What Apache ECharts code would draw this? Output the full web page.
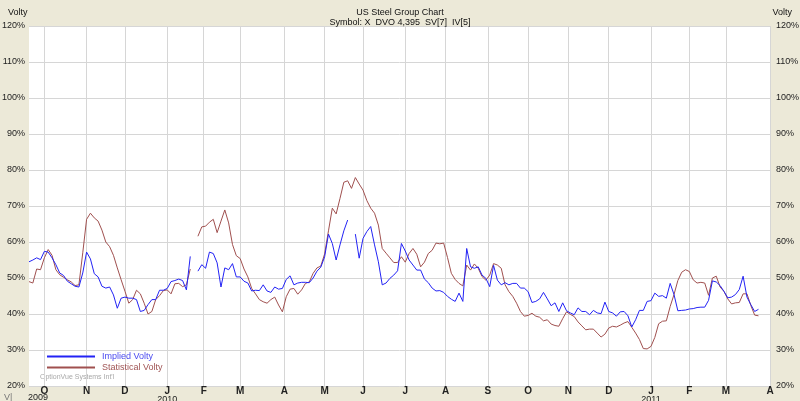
<!DOCTYPE html>
<html><head><meta charset="utf-8">
<script src="https://cdn.jsdelivr.net/npm/echarts@6/dist/echarts.min.js"></script>
<style>html,body{margin:0;padding:0;background:#ECE9D8;}#c{width:800px;height:401px;}</style>
</head><body><div id="c"></div>
<script>
const titleText = 'US Steel Group Chart';
const subtitleText = 'Symbol: X  DVO 4,395  SV[7]  IV[5]';
const axisName = 'Volty';
const seriesNames = ['Implied Volty', 'Statistical Volty'];
const footerText = 'OptionVue Systems Int\'l';
const firstYearLabel = '2009';
const startDate = '2009-09-21';
const endDate = '2011-04-01';
const holidays = ['2009-11-26','2009-12-25','2010-01-01','2010-01-18','2010-02-15','2010-04-02','2010-05-31','2010-07-05','2010-09-06','2010-11-25','2010-12-24','2011-01-17','2011-02-21'];
const monthLetters = ['J','F','M','A','M','J','J','A','S','O','N','D'];
const yMin = 20, yMax = 120, yStep = 10;
const sampleStep = 2; // one value every 2 trading days

const impliedVolty = [
54.5,55.0,55.6,55.1,57.4,57.2,55.6,53.7,51.4,50.7,
49.1,48.4,47.7,47.5,51.4,57.2,55.3,51.2,50.3,47.7,
47.2,47.5,45.3,41.6,44.4,44.7,44.4,44.4,44.0,40.7,
41.0,42.6,44.0,44.0,46.6,46.6,47.1,49.0,49.3,49.7,
49.3,46.7,56.0,null,51.9,53.7,52.7,57.2,56.8,54.2,
47.5,52.8,52.3,54.0,50.3,50.3,49.1,48.6,46.4,46.6,
46.5,48.1,46.4,46.0,47.5,46.9,47.1,49.6,50.6,48.1,
48.6,48.8,48.8,48.7,50.0,51.9,53.0,55.9,62.2,59.6,
55.0,59.2,63.1,66.1,null,62.2,55.5,61.0,62.9,64.3,
59.2,54.5,48.1,48.6,49.9,50.8,52.0,59.6,57.5,55.0,
53.6,52.2,52.2,49.7,48.7,47.2,46.4,46.5,46.0,44.9,
44.1,43.5,45.8,43.5,58.2,53.1,52.7,53.1,50.8,49.9,
47.6,53.5,49.4,48.1,48.7,48.1,48.5,48.5,47.2,47.2,
46.2,43.2,43.5,44.2,46.0,44.2,42.3,43.1,40.7,43.1,
40.9,40.3,39.8,41.7,40.7,40.7,39.8,41.0,40.3,40.1,
43.3,40.7,40.3,39.4,40.6,40.7,39.5,36.4,38.4,41.0,
41.0,43.5,43.7,45.8,44.9,45.1,44.4,48.5,45.4,40.9,
41.0,41.1,41.4,41.5,41.8,41.9,41.9,43.8,49.2,48.9,
47.9,46.3,44.5,44.7,45.4,46.8,50.5,44.7,42.6,40.7,
41.3];

const statisticalVolty = [
49.0,48.6,52.5,52.3,55.6,57.9,56.3,52.3,50.9,50.2,
49.5,48.9,47.9,48.1,57.0,66.3,68.0,66.7,65.8,63.3,
60.0,58.7,56.3,52.8,49.5,46.3,43.0,44.0,46.6,45.6,
43.0,40.0,40.7,44.0,45.1,46.5,46.7,45.6,48.4,48.5,
47.6,48.1,52.5,null,61.6,64.2,64.4,65.5,66.3,62.6,
65.8,68.9,65.3,59.3,56.2,55.4,52.5,50.3,47.1,45.6,
44.0,43.4,43.0,44.0,44.7,42.5,40.6,44.8,46.9,47.1,
45.5,46.7,48.5,48.9,51.3,52.8,53.3,56.7,63.1,69.4,
67.8,72.1,76.6,77.0,74.9,77.9,76.1,74.4,71.5,69.4,
68.0,64.7,58.2,56.9,55.6,54.3,54.3,55.9,54.4,56.8,
58.2,56.6,53.1,54.4,56.8,57.7,59.7,59.5,59.7,55.7,
51.3,49.6,48.5,47.8,53.6,52.2,53.9,52.7,50.4,49.4,
50.8,54.0,53.6,52.7,48.1,46.2,44.9,43.0,40.7,39.4,
39.6,40.2,39.4,39.1,38.1,38.4,37.2,36.8,36.6,38.7,
40.6,39.9,39.3,37.8,36.7,35.6,35.8,35.8,34.7,33.6,
34.4,36.1,36.6,36.4,36.9,37.5,37.9,36.3,34.7,32.9,
30.4,30.3,31.0,33.5,37.3,38.0,38.1,42.1,45.4,49.3,
51.6,52.3,51.8,49.5,48.6,48.8,48.6,45.2,50.0,50.5,
47.5,46.3,44.2,42.8,43.1,43.2,45.6,45.6,42.4,39.7,
39.5];

// trading-day categories
function buildTradingDays() {
  const out = [];
  const d = new Date(startDate + 'T00:00:00Z');
  const end = new Date(endDate + 'T00:00:00Z').getTime();
  while (d.getTime() <= end) {
    const wd = d.getUTCDay();
    const s = d.toISOString().slice(0, 10);
    if (wd !== 0 && wd !== 6 && holidays.indexOf(s) < 0) out.push(s);
    d.setUTCDate(d.getUTCDate() + 1);
  }
  return out;
}
const days = buildTradingDays();
const isMonthStart = days.map((s, i) => i > 0 && s.slice(5, 7) !== days[i - 1].slice(5, 7));

function toPairs(arr) { return arr.map((v, k) => [k * sampleStep, v]); }

const chart = echarts.init(document.getElementById('c'), null, {renderer: 'canvas'});
const FONT = 'Liberation Sans, Arial, sans-serif';
const BLUE = '#2323f5';
const BROWN = '#a0504f';
chart.setOption({
  animation: false,
  backgroundColor: '#ECE9D8',
  textStyle: {fontFamily: FONT},
  title: [
    {text: titleText, left: 'center', top: 3, textStyle: {fontSize: 9, fontWeight: 'normal', color: '#111', fontFamily: FONT}},
    {text: subtitleText, left: 'center', top: 13, textStyle: {fontSize: 9, fontWeight: 'normal', color: '#111', fontFamily: FONT}},
    {text: axisName, left: 3, top: 3, textStyle: {fontSize: 9, fontWeight: 'normal', color: '#111', fontFamily: FONT}},
    {text: axisName, right: 3, top: 3, textStyle: {fontSize: 9, fontWeight: 'normal', color: '#111', fontFamily: FONT}}
  ],
  legend: {
    orient: 'vertical', left: 47, top: 352, itemWidth: 48, itemHeight: 2, itemGap: 2,
    icon: 'rect', padding: 0,
    data: [
      {name: seriesNames[0], textStyle: {color: '#4a4af0'}},
      {name: seriesNames[1], textStyle: {color: '#a05555'}}
    ],
    textStyle: {fontSize: 9, fontFamily: FONT, padding: [0, 0, 0, 2]}
  },
  graphic: [
    {type: 'text', left: 40, top: 374, style: {text: footerText, fill: '#a8a8a8', font: '7px ' + FONT}},
    {type: 'text', left: 28, top: 393, style: {text: firstYearLabel, fill: '#222', font: '9px ' + FONT}},
    {type: 'text', left: 4, top: 393, style: {text: 'V|', fill: '#777', font: '9px ' + FONT}}
  ],
  grid: {left: 29, right: 30, top: 26, bottom: 15, show: true, backgroundColor: '#ffffff', borderWidth: 0,
         containLabel: false, outerBoundsMode: 'none'},
  xAxis: {
    type: 'category', data: days, boundaryGap: false,
    axisLine: {show: false}, axisTick: {show: false},
    splitLine: {show: true, interval: (i) => isMonthStart[i], lineStyle: {color: '#d6d6d6', width: 1}},
    axisLabel: {
      interval: (i) => isMonthStart[i], margin: 1,
      formatter: (value) => {
        const m = parseInt(value.slice(5, 7), 10) - 1;
        let s = '{m|' + monthLetters[m] + '}';
        if (m === 0) s += '\n{y|' + value.slice(0, 4) + '}';
        return s;
      },
      rich: {
        m: {fontSize: 10, fontWeight: 'bold', color: '#222', lineHeight: 8, fontFamily: FONT},
        y: {fontSize: 9, color: '#222', lineHeight: 9, fontFamily: FONT}
      }
    }
  },
  yAxis: [
    {type: 'value', min: yMin, max: yMax, interval: yStep, position: 'left',
     axisLine: {show: false}, axisTick: {show: false},
     splitLine: {lineStyle: {color: '#d6d6d6', width: 1}},
     axisLabel: {formatter: '{value}%', fontSize: 9, color: '#222', margin: 4, fontFamily: FONT}},
    {type: 'value', min: yMin, max: yMax, interval: yStep, position: 'right',
     axisLine: {show: false}, axisTick: {show: false}, splitLine: {show: false},
     axisLabel: {formatter: '{value}%', fontSize: 9, color: '#222', margin: 6, fontFamily: FONT}}
  ],
  series: [
    {name: seriesNames[0], type: 'line', data: toPairs(impliedVolty), showSymbol: false, symbol: 'none',
     lineStyle: {color: BLUE, width: 1}, itemStyle: {color: BLUE}, connectNulls: false, z: 3},
    {name: seriesNames[1], type: 'line', data: toPairs(statisticalVolty), showSymbol: false, symbol: 'none',
     lineStyle: {color: BROWN, width: 1}, itemStyle: {color: BROWN}, connectNulls: false, z: 2}
  ]
});
</script></body></html>
